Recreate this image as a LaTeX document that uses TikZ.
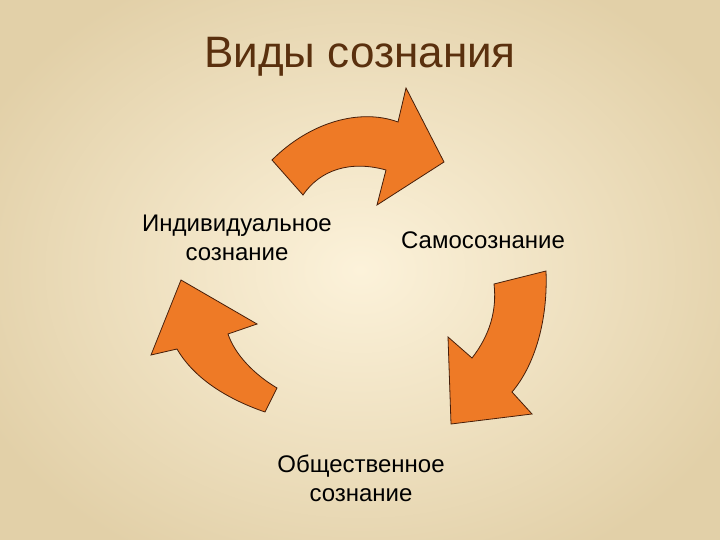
\documentclass[tikz,border=0pt]{standalone}
\usepackage{fontspec}
\setmainfont{Liberation Sans}
\begin{document}
\begin{tikzpicture}[x=1bp,y=-1bp,
  arr/.style={fill={rgb,255:red,238;green,122;blue,38},draw={rgb,255:red,70;green,30;blue,10},line width=0.8bp,line join=miter},
  lbl/.style={font=\fontsize{24bp}{29bp}\selectfont,align=center,text=black}]
\useasboundingbox (0,0) rectangle (720,540);
\shade[inner color={rgb,255:red,252;green,242;blue,218},outer color={rgb,255:red,226;green,208;blue,168}] (-60,-60) rectangle (780,600);
\node[font=\fontsize{44bp}{50bp}\selectfont,text={rgb,255:red,90;green,48;blue,14}] (title) at (360,57) {Виды сознания};
\node[lbl] (ind) at (237,238) {Индивидуальное\\сознание};
\node[lbl] (sam) at (483,240) {Самосознание};
\node[lbl] (obs) at (361,478) {Общественное\\сознание};
% top arrow
\draw[arr] (272,160) .. controls (310,122) and (360,108) .. (398,122) -- (406,88) -- (444,162) -- (377,205) -- (386,170) .. controls (350,160) and (320,170) .. (303,195) -- cycle;
% right arrow
\draw[arr] (546,271) .. controls (548,320) and (535,365) .. (512,392) -- (532,414) -- (451,424) -- (448,337) -- (472,358) .. controls (490,335) and (497,310) .. (494,284) -- cycle;
% left arrow
\draw[arr] (277,388) .. controls (255,375) and (235,355) .. (228,334) -- (257,324) -- (181,280) -- (151,355) -- (177,349) .. controls (195,380) and (230,400) .. (265,412) -- cycle;
\end{tikzpicture}
\end{document}
